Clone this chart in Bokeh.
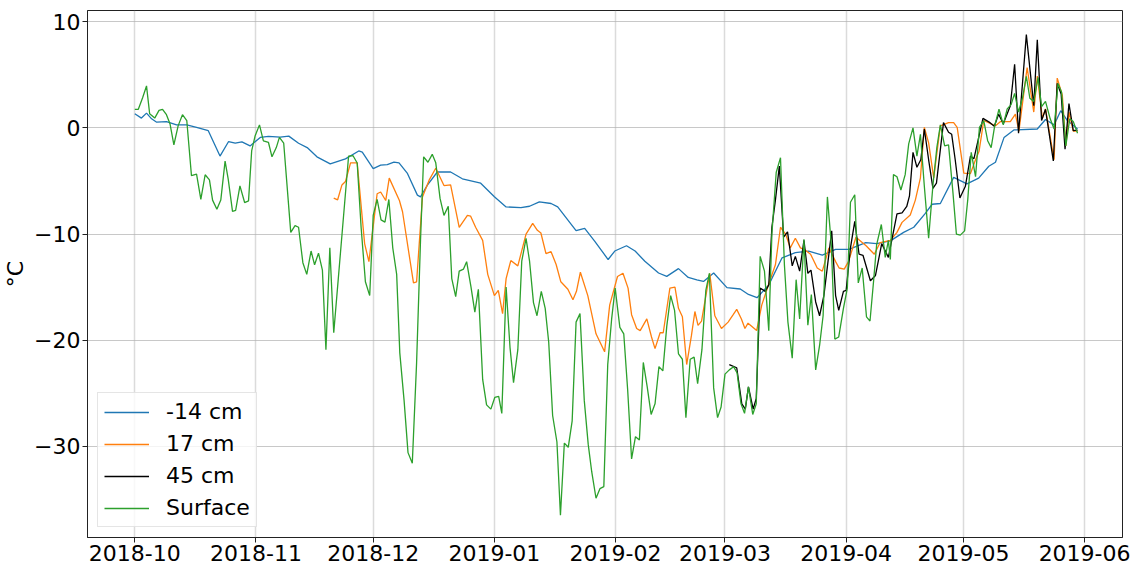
import numpy as np
from bokeh.plotting import figure
from bokeh.models import FixedTicker, CustomJSTickFormatter, Range1d, Legend
from bokeh.embed import file_html
from bokeh.resources import INLINE

BASE_DATE = "2018-10-01"
TICK_MONTHS = ["2018-10-01", "2018-11-01", "2018-12-01", "2019-01-01", "2019-02-01",
               "2019-03-01", "2019-04-01", "2019-05-01", "2019-06-01"]
Y_TICKS = [-30, -20, -10, 0, 10]
SERIES_NAMES = ["-14 cm", "17 cm", "45 cm", "Surface"]
SERIES_COLORS = ["#1f77b4", "#ff7f0e", "#000000", "#2ca02c"]

# day offsets from BASE_DATE and temperatures (deg C)
DAYS_M14 = [0, 1.7, 3, 4.3, 5.6, 8.1, 10.7, 13.3, 15.8, 18.8, 21.8, 24, 25.7, 27.4, 29.5, 32.1, 34.2,
            37.2, 39.4, 41.9, 44.1, 46.6, 50, 53.9, 57.3, 58.2, 61, 62.9, 64.6, 66.3, 67.6, 69.7, 72.3,
            73.1, 74.9, 77.4, 80.8, 83.8, 88.5, 92, 95, 98.8, 101, 103.5, 106.5, 108.2, 112.9, 115.1,
            117.6, 121.1, 122.8, 125.8, 128, 130.5, 134, 136.1, 139.1, 141.6, 143.8, 145.5, 148.1,
            151.5, 154.9, 157, 159.2, 162.2, 165.6, 169, 172.4, 175.9, 179.3, 182.7, 187, 189.8,
            193.3, 196.7, 199.3, 202.2, 204, 206.1, 209.5, 212.9, 215.9, 218.5, 220.2, 222.4, 224.9,
            230.9, 233, 235.2, 236.9, 238.6, 241.2]
VALS_M14 = [1.34, 0.93, 1.4, 0.86, 0.54, 0.6, 0.29, 0.29, 0.06, -0.26, -2.65, -1.28, -1.44, -1.31, -1.69,
            -0.89, -0.8, -0.86, -0.77, -1.44, -1.85, -2.72, -3.39, -2.91, -2.17, -2.27, -3.83, -3.51,
            -3.45, -3.23, -3.29, -4.25, -6.33, -6.49, -5.37, -4.15, -4.15, -4.79, -5.21, -6.49, -7.44,
            -7.51, -7.38, -6.96, -7.12, -7.44, -9.68, -9.46, -10.64, -12.4, -11.6, -11.1, -11.6, -12.56,
            -13.67, -13.99, -13.26, -14.09, -14.31, -14.47, -13.67, -15.05, -15.18, -15.69, -16.0,
            -14.79, -12.24, -11.76, -11.6, -11.98, -11.44, -11.44, -10.8, -10.9, -10.64, -9.84, -9.36,
            -8.08, -7.19, -7.12, -4.66, -5.27, -4.73, -3.61, -3.23, -0.89, -0.19, -0.1, 0.8, 0.29,
            1.63, 0.7, -0.1]

DAYS_17 = [50.9, 51.9, 53, 53.9, 55.2, 56.9, 58.8, 59.9, 62, 62.9, 64.2, 65.1, 67.7, 68.5, 71.3, 72.1,
           73.6, 75.3, 77, 79.1, 80.8, 83, 85.1, 85.9, 87.2, 89, 90.3, 92, 93, 94.1, 95, 96.2, 98, 100.1,
           101.8, 103, 103.9, 105.2, 106.5, 107.8, 109, 110.8, 112.1, 113, 114, 115.9, 118, 120.2,
           121.5, 123.5, 124.9, 126.2, 127.1, 128.4, 129.3, 131, 132.2, 133.1, 134.4, 135.2, 136.9,
           138.2, 139.1, 140.1, 141.2, 142.4, 143.3, 144.1, 145, 146.3, 147.1, 148.4, 150.1, 151.8,
           153.1, 154, 155.2, 156.1, 156.9, 159.1, 160.4, 162.1, 163.9, 165.2, 166.5, 167.7, 169,
           170.3, 171.5, 172.9, 174.6, 175.9, 177.6, 179.3, 180.2, 181.5, 182.6, 184.5, 187.1, 189.2,
           190.7, 193.3, 195, 196.3, 198.4, 199.7, 201, 202, 203.1, 204.4, 206.1, 208.2, 209.5, 210.4,
           212.1, 213.8, 215.1, 216, 217.2, 220.2, 221.5, 224, 225.3, 226.2, 228.3, 230, 230.9, 232.2,
           233, 235.2, 236, 237.3, 238.2, 239, 240.1, 241.2]
VALS_17 = [-6.61, -6.77, -5.37, -5.05, -3.29, -3.29, -10.9, -12.6, -6.2, -6.04, -6.84, -4.73, -6.84, -7.9,
           -14.6, -14.5, -6.5, -4.92, -3.8, -5.43, -5.37, -9.36, -8.24, -8.3, -9.36, -10.6, -13.8, -15.8,
           -15.3, -17.5, -14.2, -12.5, -13.0, -10.0, -9.0, -9.65, -9.9, -11.85, -11.66, -12.87, -14.5,
           -15.2, -16.2, -15.4, -13.6, -15.8, -19.4, -21.1, -16.7, -14.0, -13.7, -15.1, -17.6, -18.9,
           -19.1, -18.0, -19.7, -20.8, -19.3, -19.3, -15.1, -15.0, -17.0, -17.8, -22.3, -19.6, -17.3,
           -18.6, -18.2, -15.4, -13.7, -17.7, -18.9, -18.3, -17.6, -17.1, -18.0, -18.9, -18.4, -19.1,
           -16.7, -14.8, -12.9, -9.36, -10.0, -11.3, -10.4, -11.3, -11.5, -11.9, -13.2, -13.5, -11.3,
           -12.6, -13.2, -13.3, -12.6, -10.3, -11.1, -11.9, -10.8, -10.6, -9.84, -8.9, -8.2, -6.8, -4.7,
           0.06, -1.4, -4.7, 0.2, 0.5, 0.5, 0.06, -4.25, -4.3, -3.0, -2.2, 0.7, 0.2, 0.6, 0.6, 1.3, -0.3,
           5.7, 1.5, 4.9, 0.9, 1.8, -3.0, 4.7, 3.1, -1.7, 1.5, -0.3, -0.3]

DAYS_45 = [152.1, 154, 155.3, 156.2, 157, 158.2, 159, 160, 161.3, 162.2, 163, 163.9, 164.9, 166, 167,
           168.2, 169, 170.1, 171.2, 172.2, 173, 174.2, 175.2, 176.3, 178.3, 179.3, 180.1, 181.3, 182,
           183.1, 184.2, 185.3, 186.3, 188.2, 189.5, 191.1, 192.8, 195, 196.3, 197.5, 198.2, 199.1,
           200.1, 201.1, 202, 203.1, 204.2, 205.1, 206.9, 208.2, 209, 209.9, 211.1, 212.5, 213.8,
           214.7, 217, 218.8, 219.9, 221, 222.2, 224, 225.1, 226.1, 228.1, 230, 230.9, 232, 233, 235,
           236, 237, 238, 239, 240.1, 241.2]
VALS_45 = [-22.3, -22.6, -26.0, -26.5, -24.4, -26.5, -25.5, -15.1, -15.4, -14.8, -9.36, -6.8, -3.6, -10.3,
           -9.8, -13.0, -12.1, -13.5, -10.6, -13.7, -13.4, -16.4, -17.7, -15.8, -9.7, -15.8, -17.2,
           -15.4, -15.3, -11.3, -8.8, -11.9, -12.0, -14.4, -13.9, -10.9, -12.2, -8.1, -8.0, -7.4, -6.4,
           -2.3, -3.7, -3.0, -0.1, -3.0, -5.7, -5.2, 0.5, -0.4, -0.6, -3.0, -6.6, -5.5, -2.65, -2.9, 0.9,
           0.5, 0.16, 1.3, 0.4, 2.1, 6.0, -0.5, 8.8, 2.1, 8.3, 0.7, 1.76, -3.1, 4.2, 3.2, -2.0, 2.3,
           -0.26, -0.2]

DAYS_SURF = [0, 0.9, 2, 3, 3.8, 5.1, 6.2, 7.1, 8.1, 9, 10, 11.1, 12.2, 13.3, 14.5, 15.8, 16.9, 18, 19.1,
             19.9, 21, 22, 23.1, 23.9, 25, 25.8, 26.9, 28.1, 29.1, 29.9, 30.8, 31.9, 32.9, 34.2, 35.1,
             36.2, 37, 38.1, 39.9, 41, 41.9, 43, 44, 45.1, 46, 47, 48, 48.9, 49.9, 50.9, 54.7, 55.8,
             56.9, 57.9, 59, 60.1, 61, 62, 63, 64, 65, 66, 67, 67.8, 68.9, 69.9, 71, 72.1, 73.1, 73.9,
             75, 76.1, 77, 78.1, 79.1, 80.2, 81.1, 82.1, 83, 84.1, 84.9, 86, 87, 87.9, 89, 90, 91.1,
             92.1, 93.1, 93.9, 95, 96, 96.9, 98, 99, 100.1, 101, 102, 102.9, 104, 105, 105.9, 106.9,
             108, 108.9, 109.9, 110.9, 111.9, 112.9, 113.9, 115, 116, 116.9, 118, 119, 120, 121, 122,
             122.9, 124.1, 125.1, 126.1, 127.1, 128.1, 129.1, 130.1, 131.1, 132.1, 133.1, 134.1, 135.1,
             136.1, 137.1, 138.1, 139.1, 140.1, 141, 142.1, 143.1, 144, 145.1, 146.1, 147, 148.1, 149.1,
             150, 151, 152.1, 153.2, 154.1, 155.1, 156, 157, 158.1, 159, 160, 161.1, 162.2, 163, 164.1,
             165.2, 166.2, 167.1, 168.2, 169.2, 170.1, 171.2, 172.2, 173.1, 174.2, 175.2, 176.1, 177.2,
             178.2, 179.1, 180.1, 181.3, 182.3, 183.1, 184.2, 185.1, 186.1, 187.2, 188.1, 189, 189.8,
             191, 192, 192.8, 193.3, 194.1, 195, 196, 197.1, 198, 199.1, 200.1, 201, 202, 203.1, 204.2,
             205.2, 206.1, 207.2, 208.2, 209.3, 210.2, 211.2, 212.3, 213.1, 214, 215.1, 216.1, 217.2,
             218.2, 219.1, 220, 221.1, 222.2, 223.2, 224.2, 225.1, 226.1, 227.1, 228.1, 229, 230, 231.1,
             232, 233, 234.2, 235.2, 236.2, 237.1, 238.2, 239.2, 240.1, 241.2]
VALS_SURF = [1.76, 1.76, 2.84, 3.96, 1.34, 0.93, 1.66, 1.76, 1.25, 0.4, -1.6, 0.22, 1.25, 0.7, -4.5, -4.35,
             -6.74, -4.41, -4.89, -6.8, -7.67, -6.8, -3.13, -4.82, -7.86, -7.76, -5.46, -7.03, -6.87,
             -2.17, -0.73, 0.29, -1.21, -1.37, -2.72, -1.85, -0.89, -1.44, -9.84, -9.2, -9.36, -12.7,
             -13.8, -11.6, -12.9, -11.8, -13.4, -20.9, -11.3, -19.3, -2.65, -2.6, -3.3, -9.36, -14.5,
             -15.8, -8.24, -6.74, -8.66, -8.88, -6.74, -11.3, -13.8, -21.2, -25.7, -30.6, -31.6, -22.1,
             -10.6, -2.72, -3.23, -2.49, -3.29, -6.64, -8.24, -7.38, -14.2, -15.9, -13.5, -13.3, -12.6,
             -14.95, -17.35, -15.2, -23.7, -26.1, -26.5, -25.4, -25.3, -26.9, -15.0, -20.7, -24.0, -20.9,
             -12.56, -10.4, -12.56, -16.46, -17.7, -15.4, -17.0, -20.2, -27.1, -29.6, -36.5, -29.7,
             -30.1, -27.6, -18.3, -17.5, -25.7, -29.8, -32.4, -34.9, -34.0, -33.8, -22.3, -18.0, -15.1,
             -18.8, -19.4, -24.7, -31.2, -29.1, -29.4, -22.1, -24.4, -27.0, -26.0, -22.5, -22.9, -18.7,
             -15.8, -17.2, -21.3, -21.8, -27.3, -21.8, -21.6, -24.1, -20.9, -15.3, -13.7, -24.5, -27.3,
             -26.3, -23.2, -22.8, -22.5, -23.1, -26.0, -26.9, -24.4, -27.0, -26.0, -12.1, -13.5, -19.1,
             -10.0, -4.2, -2.8, -12.9, -18.3, -21.7, -14.3, -18.0, -10.5, -18.6, -15.7, -22.8, -20.5,
             -17.7, -6.5, -11.0, -19.9, -19.7, -17.0, -15.1, -7.0, -6.3, -14.6, -13.2, -17.8, -18.2,
             -14.5, -11.0, -9.1, -12.2, -10.6, -12.4, -4.4, -4.6, -5.85, -4.4, -1.5, 0.0, -2.65, -0.6,
             -5.5, -10.4, -5.4, -1.85, 0.3, -1.7, -1.6, -6.0, -10.0, -10.1, -9.7, -6.8, -2.3, -4.6, 0.06,
             0.7, -1.2, -1.85, 0.2, 1.76, 0.3, 1.8, 2.2, 3.26, 1.5, 2.8, 4.86, 2.8, 2.5, 4.76, 2.0, 2.5,
             0.86, -0.1, 4.2, 3.4, -1.7, 0.86, 0.6, -0.5]

DAY_MS = 86400000.0
base_ms = np.datetime64(BASE_DATE, "ms").astype("int64").astype(float)


def to_ms(days):
    return [base_ms + d * DAY_MS for d in days]


FONT = "DejaVu Sans"
FS = "22px"

p = figure(width=1133, height=568, x_axis_type="datetime", output_backend="svg",
           toolbar_location=None,
           x_range=Range1d(base_ms - 12.1 * DAY_MS, base_ms + 252.7 * DAY_MS),
           y_range=Range1d(-38.6, 11.07),
           min_border_left=86, min_border_right=11, min_border_top=10, min_border_bottom=31)

series = [(DAYS_M14, VALS_M14), (DAYS_17, VALS_17), (DAYS_45, VALS_45), (DAYS_SURF, VALS_SURF)]
renderers = []
for (d, v), name, col in zip(series, SERIES_NAMES, SERIES_COLORS):
    r = p.line(to_ms(d), v, line_color=col, line_width=1.3)
    renderers.append((name, [r]))

legend = Legend(items=renderers, location="bottom_left")
legend.label_text_font = FONT
legend.label_text_font_size = FS
legend.label_text_color = "black"
legend.glyph_width = 45
legend.glyph_height = 24
legend.label_height = 24
legend.spacing = 7
legend.padding = 6
legend.margin = 10
legend.label_standoff = 17
legend.border_line_color = "#cccccc"
legend.border_line_width = 1
legend.background_fill_alpha = 0.8
p.add_layout(legend)

tick_ms = [np.datetime64(t, "ms").astype("int64").astype(float) for t in TICK_MONTHS]
p.xaxis.ticker = FixedTicker(ticks=tick_ms)
p.xaxis.formatter = CustomJSTickFormatter(code="""
const d = new Date(tick);
return d.getUTCFullYear() + '-' + String(d.getUTCMonth() + 1).padStart(2, '0');
""")
p.yaxis.ticker = FixedTicker(ticks=Y_TICKS)
p.yaxis.formatter = CustomJSTickFormatter(code="""
return tick < 0 ? '\u2212' + Math.abs(tick) : String(tick);
""")
p.yaxis.axis_label = "°C"

for ax in (p.xaxis[0], p.yaxis[0]):
    ax.major_label_text_font = FONT
    ax.major_label_text_font_size = FS
    ax.major_label_text_color = "black"
    ax.axis_label_text_font = FONT
    ax.axis_label_text_font_size = FS
    ax.axis_label_text_font_style = "normal"
    ax.axis_label_text_color = "black"
    ax.minor_tick_line_color = None
    ax.major_tick_in = 0
    ax.major_tick_out = 5
    ax.major_label_standoff = 2
    ax.axis_line_color = "#222222"
    ax.major_tick_line_color = "#222222"
p.yaxis.axis_label_standoff = 3

p.xgrid.grid_line_color = "#b0b0b0"
p.xgrid.grid_line_alpha = 0.45
p.xgrid.grid_line_width = 1.5
p.ygrid.grid_line_color = "#b0b0b0"
p.ygrid.grid_line_alpha = 0.7
p.ygrid.grid_line_width = 1

p.outline_line_color = "#222222"
p.outline_line_width = 1
p.background_fill_color = "white"
p.border_fill_color = "white"

open("out.html", "w").write(file_html(p, INLINE))
